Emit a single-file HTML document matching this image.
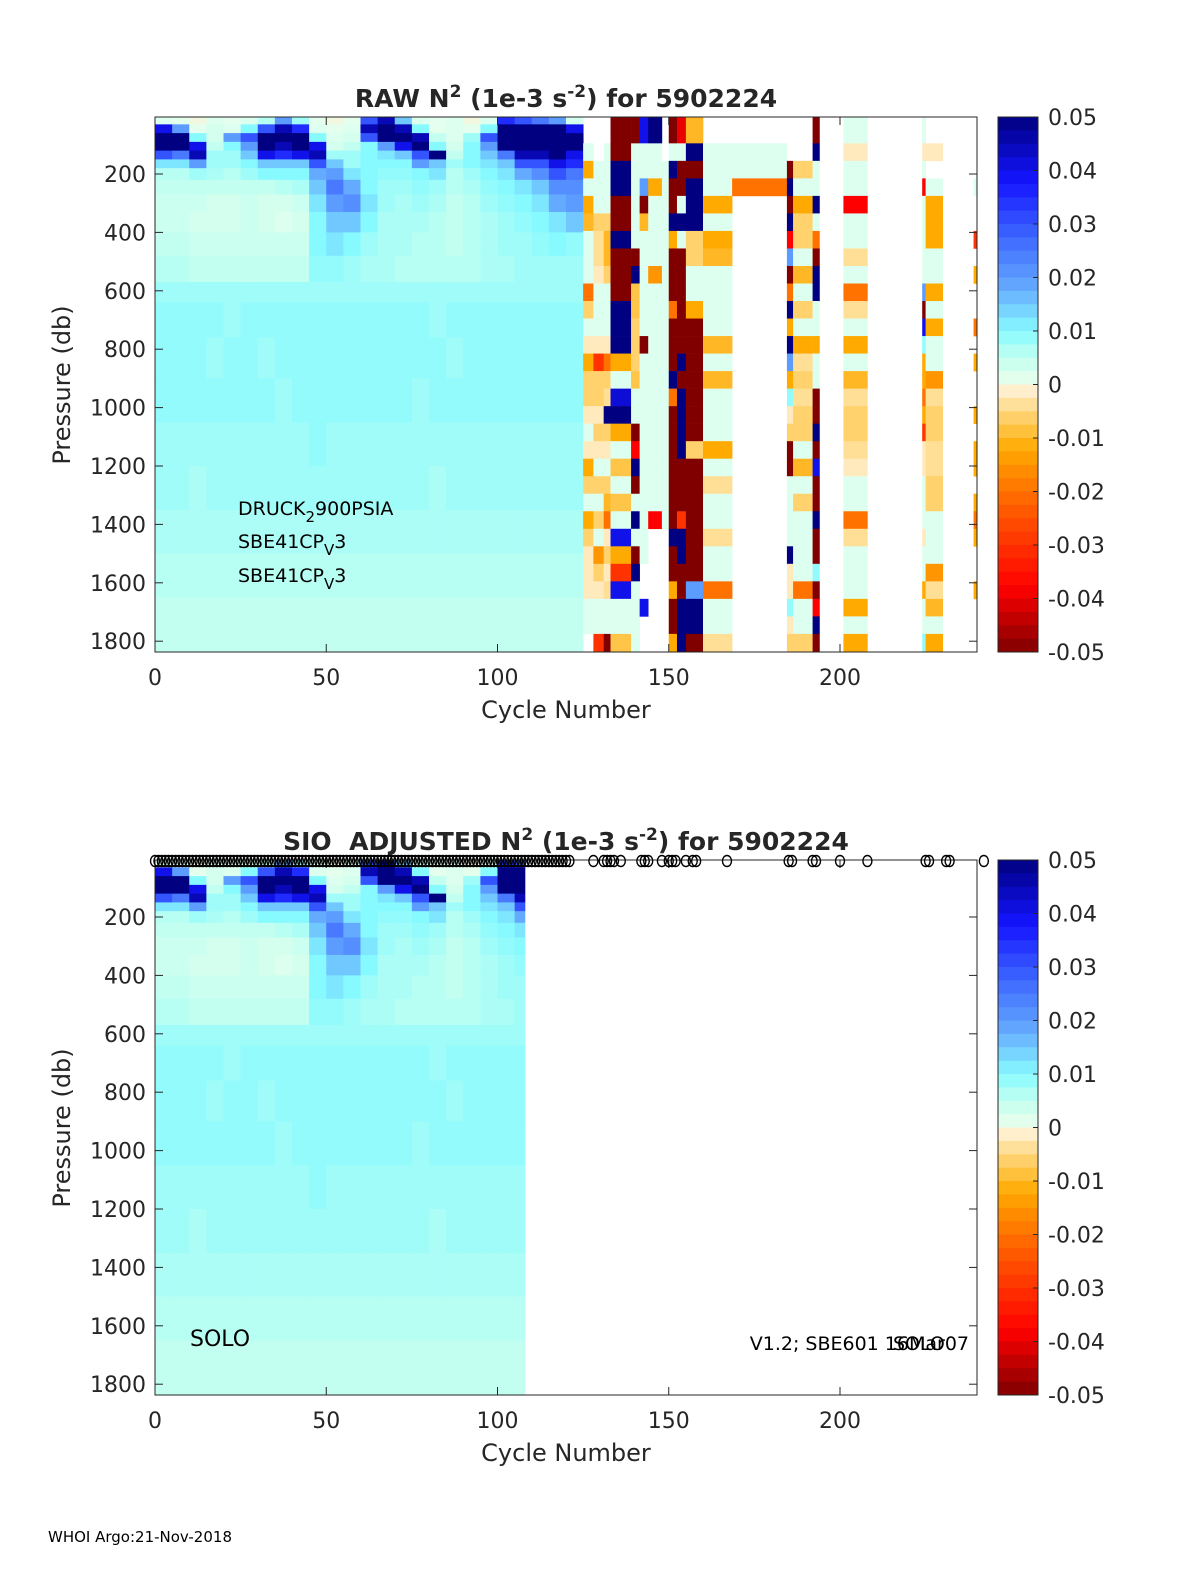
<!DOCTYPE html>
<html><head><meta charset="utf-8"><style>
html,body{margin:0;padding:0;background:#fff;overflow:hidden;width:1200px;height:1575px;}
svg{display:block;}
svg text{font-family:"DejaVu Sans","Liberation Sans",sans-serif;fill:#262626;}
</style></head><body>
<svg id="fig" xmlns="http://www.w3.org/2000/svg" width="1200" height="1575" viewBox="0 0 1200 1575">
<rect width="1200" height="1575" fill="#fff"/>
<g id="p1"></g>
<g id="p2"></g>
<text x="48" y="1542" font-size="15" style="fill:#000">WHOI Argo:21-Nov-2018</text>
</svg>
<script>
// ---------- DATA (values in units of 0.001) ----------
const leftCycleEdges = [0,5,10,15,20,25,30,35,40,45,50,55,60,65,70,75,80,85,90,95,100,105,110,115,120,125];
const leftPresEdges = [5,30,60,90,120,150,180,220,270,330,400,480,570,640,760,900,1050,1200,1350,1500,1650,1837];
const leftValues = [
 [2,1,0,2,1,2,6,20,8,1,0,1,30,45,15,2,1,2,0,2,35,30,25,20,3],
 [40,20,1,3,2,10,30,45,35,2,1,2,45,50,45,10,1,2,1,10,50,50,50,50,40],
 [50,50,10,3,20,30,50,50,50,10,2,3,30,50,50,45,5,2,8,30,50,50,50,50,50],
 [50,50,40,5,10,20,50,45,50,40,3,5,10,20,40,50,10,3,10,20,50,50,50,50,50],
 [30,25,45,8,8,15,40,35,40,45,8,8,10,12,15,30,50,5,10,15,25,45,45,50,40],
 [12,12,20,8,8,10,15,15,15,30,15,8,10,10,10,20,15,8,10,12,15,30,30,40,35],
 [6,6,8,7,6,8,10,10,10,18,20,12,10,9,9,10,12,6,8,10,12,18,22,30,25],
 [5,5,5,5,5,5,5,6,7,15,25,18,10,8,8,9,8,6,7,9,10,12,15,22,22],
 [4,4,4,3,3,4,3,3,4,12,20,22,12,8,7,8,7,5,6,8,9,10,12,18,20],
 [4,4,3,3,3,4,3,2,3,10,15,15,10,7,7,7,6,5,6,7,8,9,10,12,15],
 [5,5,4,4,4,4,4,4,4,10,12,10,8,7,7,6,6,5,6,7,8,8,9,10,9],
 [6,6,5,5,5,5,5,5,5,9,9,8,7,7,6,6,6,6,6,7,7,8,8,8,8],
 [8,8,8,8,8,8,8,8,8,8,8,8,8,8,8,8,8,8,8,8,8,8,8,8,8],
 [9,9,9,9,8,9,9,9,9,9,9,9,9,9,9,9,8,9,9,9,9,9,9,9,9],
 [9,9,9,8,9,9,8,9,9,9,9,9,9,9,9,9,9,8,9,9,9,9,9,9,9],
 [9,9,9,9,9,9,9,8,9,9,9,9,9,9,9,8,9,9,9,9,9,9,9,9,9],
 [8,8,8,8,8,8,8,8,8,9,8,8,8,8,8,8,8,8,8,8,8,8,8,8,8],
 [8,8,7,8,8,8,8,8,8,8,8,8,8,8,8,8,7,8,8,8,8,8,8,8,8],
 [7,7,7,7,7,7,7,7,7,7,7,7,7,7,7,7,7,7,7,7,7,7,7,7,7],
 [6,6,6,6,6,6,6,6,6,6,6,6,6,6,6,6,6,6,6,6,6,6,6,6,6],
 [5,5,5,5,5,5,5,5,5,5,5,5,5,5,5,5,5,5,5,5,5,5,5,5,5]
];
const rightColStart = [125,128,131,133,139,141.5,144,148,150,152.4,155,160,168.5,184.5,186.3,192,201,224,225,239];
const rightColEnd   = [128,131,133,139,141.5,144,148,150,152.4,155,160,168.5,184.5,186.3,192,194,208,225,230,240];
const rightPresEdges = [5,95,155,215,275,335,395,455,515,575,635,695,755,815,875,935,995,1055,1115,1175,1235,1295,1355,1415,1475,1535,1595,1655,1715,1775,1837];
const N = null;
const rightValues = [
 [N,2,-12,2,-12,-10,2,2,2,-20,-6,2,-2,-12,-6,-6,-2,2,-2,-12,-6,2,-12,-6,-2,-2,-2,2,2,N],
 [N,N,2,2,2,-6,-4,-4,-2,2,2,2,-2,-30,-6,-6,-2,-6,-2,2,-6,2,-6,2,-15,-6,-2,2,2,-30],
 [N,2,2,2,2,-6,-10,-10,-6,2,2,2,-2,-20,-6,-4,50,-6,-2,2,-6,-10,-20,-2,-6,-2,-4,2,2,-50],
 [-50,-50,50,50,-50,-50,50,-50,-50,-50,50,50,50,-12,2,42,50,-12,2,-8,2,-8,2,40,-12,-30,40,2,2,-8],
 [-50,2,2,2,2,2,2,-50,50,-8,-8,-6,-6,-6,-8,2,2,-50,-38,50,-50,2,50,2,-50,50,2,2,2,2],
 [40,2,2,20,-50,-10,2,2,2,2,2,2,-50,2,2,2,2,2,2,2,2,2,2,2,2,N,N,40,N,N],
 [50,2,2,-12,2,2,2,2,-15,2,2,2,2,2,2,2,2,2,2,2,2,2,-38,N,N,N,N,N,N,N],
 [N,N,2,2,2,2,2,2,2,2,2,2,2,2,2,2,2,2,2,2,2,2,2,N,N,N,N,N,N,N],
 [-50,2,50,-50,-50,50,-12,-50,-50,-50,-20,-50,-50,-50,50,-20,-50,-50,-50,-50,-50,-50,-50,50,-50,-50,-12,-50,-50,-12],
 [-40,2,-50,-50,2,50,2,-50,-50,-50,-50,-50,-50,50,-50,50,50,50,50,-50,-50,-50,-30,50,50,-50,-50,50,50,50],
 [-10,50,-50,50,50,50,-6,-6,2,2,-12,-50,-50,-50,-50,-50,-50,-50,-6,-50,-50,-50,-50,-50,-50,-50,20,50,50,-50],
 [N,2,2,2,-12,2,-12,-10,2,2,2,2,-10,2,-10,2,2,2,-12,2,-4,2,2,-4,2,2,-20,2,2,-4],
 [N,2,2,-20,N,N,N,N,N,N,N,N,N,N,N,N,N,N,N,N,N,N,N,N,N,N,N,N,N,N],
 [N,N,-50,50,-50,50,-38,20,-50,-20,50,-12,50,20,-12,9,-2,-6,-50,-50,2,2,2,2,50,-2,-2,9,-2,-6],
 [N,N,-6,2,-12,-6,-6,2,-10,2,-6,2,-12,-4,-6,-4,-6,-6,2,-10,2,-6,2,2,2,2,-20,2,2,-6],
 [-50,50,2,2,50,2,-20,-50,50,50,2,2,-12,2,2,-50,-50,50,-50,40,-50,-50,50,-50,-50,9,-50,-38,50,-50],
 [2,-2,2,2,-38,2,2,-4,2,-20,-4,2,-12,2,-10,-4,-6,-6,-4,-2,2,2,-20,-4,2,2,2,-12,2,-12],
 [2,-2,2,-38,2,2,2,2,2,20,-50,40,9,-12,-12,-20,-12,-30,-2,-2,2,2,2,-2,2,2,-12,2,2,9],
 [N,-2,N,2,-12,-12,-12,2,2,-12,2,-12,2,2,-15,-4,-6,-6,-4,-4,-6,-6,2,2,2,-15,-4,-10,2,-12],
 [N,N,N,2,N,N,-30,N,-12,N,N,-20,N,-12,N,N,-12,N,-12,-12,N,-12,-20,-12,N,N,-12,N,N,N]
];
const adjMaxCycle = 108;
const profileCycles = [128,131,132,133,134,136,142,143,144,148,150,151,152,155,157,158,167,185,186,192,193,200,208,225,226,231,232,242];
const denseProfileCount = 122;
const cbarTicks = [0.05,0.04,0.03,0.02,0.01,0,-0.01,-0.02,-0.03,-0.04,-0.05];
const cbarTickLabels = ["0.05","0.04","0.03","0.02","0.01","0","-0.01","-0.02","-0.03","-0.04","-0.05"];
const xTicks = [0,50,100,150,200];
const yTicks = [200,400,600,800,1000,1200,1400,1600,1800];

// ---------- colormap ----------
const stops = [[-50,128,0,0],[-38,255,0,0],[-22,255,100,0],[-12,255,170,0],[-6,255,210,110],[-1,255,240,210],[1,228,255,238],[5,195,255,240],[10,135,250,255],[18,100,170,255],[28,60,100,255],[38,20,20,255],[50,0,0,128]];
function cmap(v){
  v=Math.max(-50,Math.min(50,v));
  for(let i=0;i<stops.length-1;i++){const a=stops[i],b=stops[i+1];
    if(v<=b[0]){const t=(v-a[0])/(b[0]-a[0]);
      return `rgb(${Math.round(a[1]+t*(b[1]-a[1]))},${Math.round(a[2]+t*(b[2]-a[2]))},${Math.round(a[3]+t*(b[3]-a[3]))})`;}}
  return 'rgb(0,0,128)';
}
const NS='http://www.w3.org/2000/svg';
function mk(tag,attrs,parent){const e=document.createElementNS(NS,tag);for(const k in attrs)e.setAttribute(k,attrs[k]);parent.appendChild(e);return e;}

const X0=155,X1=977,CMAX=240;
function xs(c){return X0+c*(X1-X0)/CMAX;}
function ysFactory(off){return p=>off+174+(p-200)*0.292;}

function panel(g,off,title,adjusted){
  const ys=ysFactory(off);
  const top=off+117,bot=off+652;
  const hm=mk('g',{},g);
  
  
  for(let r=0;r<leftValues.length;r++){
    for(let c=0;c<leftValues[r].length;c++){
      let c0=leftCycleEdges[c],c1=leftCycleEdges[c+1];
      if(adjusted){ if(c0>=adjMaxCycle) continue; c1=Math.min(c1,adjMaxCycle); }
      const y0=ys(leftPresEdges[r]),y1=ys(leftPresEdges[r+1]);
      const rc=mk('rect',{x:xs(c0),y:y0,width:xs(c1)-xs(c0)+0.4,height:y1-y0+0.4,fill:cmap(leftValues[r][c])},hm);
      
      
    }
  }
  if(!adjusted){
    for(let k=0;k<rightValues.length;k++){
      for(let r=0;r<rightValues[k].length;r++){
        const v=rightValues[k][r]; if(v===null) continue;
        const y0=ys(rightPresEdges[r]),y1=ys(rightPresEdges[r+1]);
        const rc=mk('rect',{x:xs(rightColStart[k]),y:y0,width:xs(rightColEnd[k])-xs(rightColStart[k])+0.3,height:y1-y0+0.3,fill:cmap(v)},hm);
        
        
      }
    }
  }
  const fr=mk('rect',{x:X0,y:top,width:X1-X0,height:bot-top,fill:'none',stroke:'#262626','stroke-width':1},g);
  
  
  yTicks.forEach(p=>{const y=ys(p);
    mk('line',{x1:X0,x2:X0+8,y1:y,y2:y,stroke:'#262626'},g);
    mk('line',{x1:X1,x2:X1-8,y1:y,y2:y,stroke:'#262626'},g);
    const t=mk('text',{x:146,y:y+8,'font-size':22,'text-anchor':'end'},g);t.textContent=p;
    
    
  });
  xTicks.forEach(c=>{const x=xs(c);
    mk('line',{x1:x,x2:x,y1:bot,y2:bot-8,stroke:'#262626'},g);
    mk('line',{x1:x,x2:x,y1:top,y2:top+8,stroke:'#262626'},g);
    const t=mk('text',{x:x,y:bot+33,'font-size':22,'text-anchor':'middle'},g);t.textContent=c;
    
    
  });
  const xl=mk('text',{x:566,y:off+718,'font-size':24,'text-anchor':'middle'},g);xl.textContent='Cycle Number';
  
  
  const yl=mk('text',{x:0,y:0,'font-size':24,'text-anchor':'middle',transform:`translate(70,${off+385}) rotate(-90)`},g);yl.textContent='Pressure (db)';
  
  
  const tt=mk('text',{x:566,y:off+107,'font-size':25,'font-weight':'bold','text-anchor':'middle'},g);
  
  
  tt.innerHTML=title;
  const cb=mk('g',{},g);
  
  
  const cx0=998,cx1=1038,nlev=40,h=(bot-top)/nlev;
  for(let i=0;i<nlev;i++){const v=50-(i+0.5)*100/nlev;
    mk('rect',{x:cx0,y:top+i*h,width:cx1-cx0,height:h+0.4,fill:cmap(v)},cb);}
  mk('rect',{x:cx0,y:top,width:cx1-cx0,height:bot-top,fill:'none',stroke:'#262626'},cb);
  cbarTicks.forEach((v,i)=>{const y=top+(0.05-v)/0.1*(bot-top);
    if(i>0&&i<cbarTicks.length-1) mk('line',{x1:cx1,x2:cx1-5,y1:y,y2:y,stroke:'#262626'},cb);
    const t=mk('text',{x:1048,y:y+8,'font-size':22},cb);t.textContent=cbarTickLabels[i];
    
    
  });
}
const p1=document.getElementById('p1'),p2=document.getElementById('p2');
panel(p1,0,'RAW N<tspan dy="-10" font-size="17">2</tspan><tspan dy="10"> (1e-3 s</tspan><tspan dy="-10" font-size="17">-2</tspan><tspan dy="10">) for 5902224</tspan>',false);
panel(p2,743,'SIO&#160; ADJUSTED N<tspan dy="-10" font-size="17">2</tspan><tspan dy="10"> (1e-3 s</tspan><tspan dy="-10" font-size="17">-2</tspan><tspan dy="10">) for 5902224</tspan>',true);

[['DRUCK','2','900PSIA',515],['SBE41CP','V','3',548],['SBE41CP','V','3',582]].forEach(a=>{
  const t=mk('text',{x:238,y:a[3],'font-size':19,style:'fill:#000'},p1);
  
  
  t.innerHTML=a[0]+'<tspan dy="7" font-size="15">'+a[1]+'</tspan><tspan dy="-7">'+a[2]+'</tspan>';
});
let t=mk('text',{x:190,y:1346,'font-size':22,style:'fill:#000'},p2);t.textContent='SOLO';


t=mk('text',{x:969,y:1350,'font-size':19,'text-anchor':'end',style:'fill:#000'},p2);t.textContent='V1.2; SBE601 16Mar07';


t=mk('text',{x:893,y:1350,'font-size':19,style:'fill:#000'},p2);t.textContent='SOLO';



const mg=mk('g',{},p2);


const allCycles=[];for(let i=0;i<denseProfileCount;i++)allCycles.push(i);
profileCycles.forEach(c=>allCycles.push(c));
allCycles.forEach(c=>{
  const m=mk('ellipse',{cx:xs(c),cy:861,rx:4.5,ry:5.5,fill:'none',stroke:'#000','stroke-width':1.4},mg);
  
  
});
</script>
</body></html>
